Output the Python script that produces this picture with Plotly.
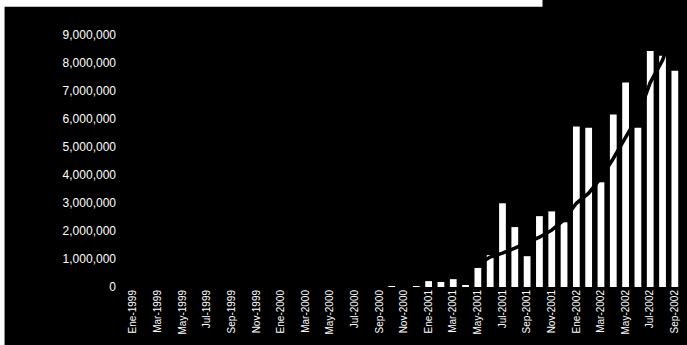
import plotly.graph_objects as go

meses = ["Ene", "Feb", "Mar", "Abr", "May", "Jun", "Jul", "Ago", "Sep", "Oct", "Nov", "Dic"]
categorias = []
for anio in [1999, 2000, 2001, 2002]:
    for m in meses:
        categorias.append(f"{m}-{anio}")
categorias = categorias[:45]  # Ene-1999 .. Sep-2002

# Monthly values (bars); zeros before Oct-2000
valores = [0] * 21 + [
    30000, 0, 30000,                      # Oct-Dic 2000
    210000, 180000, 280000, 40000, 680000, 1140000,
    2990000, 2140000, 1100000, 2530000, 2700000, 2310000,   # 2001
    5730000, 5690000, 3740000, 6160000, 7300000, 5690000,
    8430000, 8260000, 7720000,            # 2002
]

# Trend line values
tendencia = [None] * 24 + [
    300000, 380000, 470000, 600000, 800000, 1070000,
    1210000, 1390000, 1600000, 1780000, 2030000, 2400000,
    2990000, 3350000, 3900000, 4590000, 5340000, 6100000,
    7300000, 8100000, 9300000,
]

tick_labels = categorias[::2]
y_ticks = list(range(0, 10000000, 1000000))
y_text = ["0"] + [f"{v:,}" for v in y_ticks[1:]]

fig = go.Figure()
fig.add_trace(go.Bar(x=categorias, y=valores, marker=dict(color="white", line=dict(width=0)),
                     showlegend=False))
fig.add_trace(go.Scatter(x=categorias, y=tendencia, mode="lines",
                         line=dict(color="black", width=3.5), showlegend=False))

fig.update_layout(
    width=687, height=345,
    margin=dict(l=127, r=6, t=21, b=58),
    paper_bgcolor="black", plot_bgcolor="black",
    bargap=0.45,
    font=dict(family="Arial, Liberation Sans, sans-serif", color="white"),
    xaxis=dict(tickmode="array", tickvals=tick_labels, ticktext=tick_labels,
               tickangle=-90, tickfont=dict(size=10, color="white"),
               showgrid=False, zeroline=False, showline=False, ticks=""),
    yaxis=dict(range=[0, 9500000], tickvals=y_ticks, ticktext=y_text,
               tickfont=dict(size=12, color="white"), showgrid=False,
               zeroline=False, showline=False, ticks="", ticklabelstandoff=10),
    shapes=[
        dict(type="rect", xref="paper", yref="paper", x0=-0.3, x1=0.75, y0=1.054, y1=1.1,
             fillcolor="white", line=dict(width=0), layer="above"),
        dict(type="rect", xref="paper", yref="paper", x0=-0.3, x1=-0.221, y0=-0.3, y1=1.1,
             fillcolor="white", line=dict(width=0), layer="above"),
    ],
)
fig.write_html("out.html")
